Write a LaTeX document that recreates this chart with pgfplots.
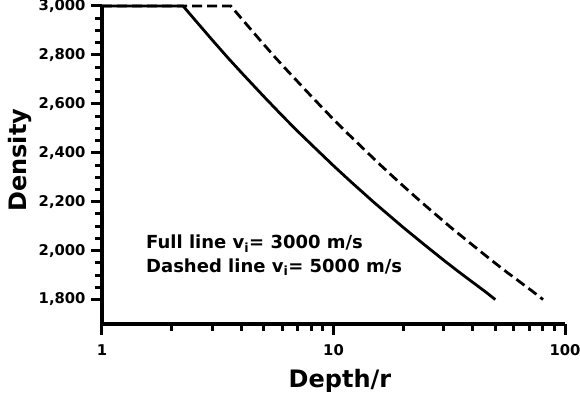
\documentclass[border=0pt]{standalone}
\usepackage{fontspec}
\setmainfont{DejaVu Sans}
\usepackage{pgfplots}
\pgfplotsset{compat=1.18}
\begin{document}
\begin{tikzpicture}
\begin{axis}[
  scale only axis, width=463pt, height=318pt,
  anchor=south west, at={(0,0)},
  xmode=log, xmin=1, xmax=100, ymin=1700, ymax=3000,
  axis x line*=bottom, axis y line*=left,
  axis line style={line width=3.6pt},
  xtick={1,10,100}, xticklabels={1,10,100},
  minor xtick={2,3,4,5,6,7,8,9,20,30,40,50,60,70,80,90},
  ytick={1800,2000,2200,2400,2600,2800,3000}, minor y tick num=3,
  tick align=outside, major tick length=11pt, minor tick length=7pt,
  every tick/.style={black, line width=3pt},
  /pgf/number format/1000 sep={,},
  /pgf/number format/assume math mode=true,
  ticklabel style={font=\fontsize{14.8}{17}\selectfont\bfseries},
  xticklabel style={yshift=-6pt},
  yticklabel style={xshift=-2pt},
  xlabel={Depth/r}, ylabel={Density},
  xlabel style={at={(axis description cs:0.514,-0.201)}, anchor=base, font=\fontsize{24}{28}\selectfont\bfseries},
  ylabel style={at={(axis description cs:-0.162,0.515)}, anchor=base, rotate=0, font=\fontsize{24}{28}\selectfont\bfseries},
  clip=false,
]
\addplot[black, line width=2.8pt, line join=round] coordinates {
(1,3000)(2.24,3000)(2.5,2947)(3,2860)(3.5,2788)(4,2728)(5,2630)(6,2552)(7,2488)(8.5,2411)(10,2347)(12,2278)(15,2196)(20,2095)(25,2020)(30,1960)(35,1911)(40,1870)(45,1834)(50,1800)};
\addplot[black, line width=2.8pt, dash pattern=on 10pt off 5pt] coordinates {
(1,3000)(3.6,3000)(4.02,2947)(4.82,2860)(5.62,2788)(6.43,2728)(8.04,2630)(9.64,2552)(11.25,2488)(13.66,2411)(16.07,2347)(19.28,2278)(24.1,2196)(32.1,2095)(40.2,2020)(48.2,1960)(56.2,1911)(64.3,1870)(72.3,1834)(80.4,1800)};
\node[anchor=base west, font=\fontsize{18}{22}\selectfont\bfseries, inner sep=0pt] at (axis description cs:0.095,0.236) {Full line v\textsubscript{i}= 3000 m/s};
\node[anchor=base west, font=\fontsize{18}{22}\selectfont\bfseries, inner sep=0pt] at (axis description cs:0.095,0.1635) {Dashed line v\textsubscript{i}= 5000 m/s};
\end{axis}
\pgfresetboundingbox
\path[use as bounding box] (-102pt,-75pt) rectangle (478pt,324pt);
\end{tikzpicture}
\end{document}
